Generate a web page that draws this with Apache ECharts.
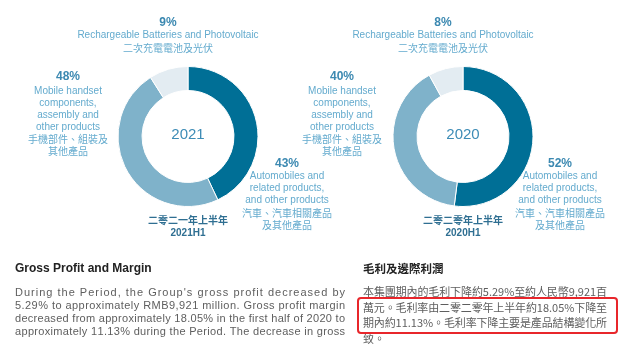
<!DOCTYPE html>
<html>
<head>
<meta charset="utf-8">
<script src="https://cdn.jsdelivr.net/npm/echarts@6/dist/echarts.min.js"></script>
<style>
  html, body { margin: 0; padding: 0; background: #fff; }
  #main { width: 640px; height: 351px; }
</style>
</head>
<body>
<div id="main"></div>
<script>
// data
var years = ['2021', '2020'];
var periodsZh = ['二零二一年上半年', '二零二零年上半年'];
var periodsEn = ['2021H1', '2020H1'];
var segmentNames = ['Automobiles', 'Mobile handset', 'Rechargeable Batteries'];
var share2021 = [43, 48, 9];
var share2020 = [52, 40, 8];
var autoLabel = ['Automobiles and', 'related products,', 'and other products', '汽車、汽車相關產品', '及其他產品'];
var mobileLabel = ['Mobile handset', 'components,', 'assembly and', 'other products', '手機部件、組裝及', '其他產品'];
var batteryLabel = ['Rechargeable Batteries and Photovoltaic', '二次充電電池及光伏'];

var headingEn = 'Gross Profit and Margin';
var paraEn = [
  "During the Period, the Group's gross profit decreased by",
  '5.29% to approximately RMB9,921 million. Gross profit margin',
  'decreased from approximately 18.05% in the first half of 2020 to',
  'approximately 11.13% during the Period. The decrease in gross'
];
var headingZh = '毛利及邊際利潤';
var paraZh = [
  '本集團期內的毛利下降約5.29%至約人民幣9,921百',
  '萬元。毛利率由二零二零年上半年約18.05%下降至',
  '期內約11.13%。毛利率下降主要是產品結構變化所',
  '致。'
];

var colors = ['#006f96', '#7fb2ca', '#e3ecf2'];
var labelColor = '#64abce';
var pctColor = '#3c89b1';
var EN = '"Liberation Sans", Arial, sans-serif';
var ZH = '"Noto Sans CJK TC", "Liberation Sans", sans-serif';

var chart = echarts.init(document.getElementById('main'));
var measure = document.createElement('canvas').getContext('2d');

function txt(s, x, y, size, color, weight, family, align) {
  return {
    type: 'text', x: x, y: y, silent: true,
    style: {
      text: s, fill: color, fontSize: size, fontWeight: weight || 'normal',
      fontFamily: family || EN, textAlign: align || 'center', align: align || 'center',
      textVerticalAlign: 'middle', verticalAlign: 'middle'
    }
  };
}

function isZh(s) { return /[\u3000-\u9fff\uff00-\uffef]/.test(s); }

// multi-line label, english lines and chinese lines in their own font
function block(pct, lines, x, y0, y1, step) {
  var out = [txt(pct + '%', x, y0, 12, pctColor, 'bold')];
  lines.forEach(function (l, i) {
    out.push(txt(l, x, y1 + i * step, 10, labelColor, 'normal', isZh(l) ? ZH : EN));
  });
  return out;
}

// justified paragraph line, pieces spread between x0 and x1
function justify(tokens, x0, x1, y, size, family, color) {
  measure.font = size + 'px ' + family;
  var w = tokens.map(function (t) { return measure.measureText(t).width; });
  var total = w.reduce(function (a, b) { return a + b; }, 0);
  var gap = tokens.length > 1 ? (x1 - x0 - total) / (tokens.length - 1) : 0;
  var out = [], x = x0;
  tokens.forEach(function (t, i) {
    if (t !== ' ') out.push(txt(t, x, y, size, color, 'normal', family, 'left'));
    x += w[i] + gap;
  });
  return out;
}

var graphics = [];
var sets = [share2021, share2020];
var cx = [188, 463];
var mobX = [68, 342];
var autoX = [287, 560];
var batX = [168, 443];

sets.forEach(function (s, k) {
  graphics.push(txt(years[k], cx[k], 135, 15, '#3d8cb6'));
  graphics = graphics.concat(block(s[2], batteryLabel, batX[k], 22.5, 35, 13));
  graphics = graphics.concat(block(s[1], mobileLabel, mobX[k], 77, 91.5, 12));
  graphics = graphics.concat(block(s[0], autoLabel, autoX[k], 164, 176.2, 12.2));
  graphics.push(txt(periodsZh[k], cx[k], 220, 10, '#2f6f92', 'bold', ZH));
  graphics.push(txt(periodsEn[k], cx[k], 233, 10, '#2f6f92', 'bold'));
});

graphics.push(txt(headingEn, 15, 269, 12, '#222', 'bold', EN, 'left'));
paraEn.forEach(function (l, i) {
  graphics = graphics.concat(justify(l.split(''), 15, 345, 293 + i * 13, 11, EN, '#5e5e5e'));
});

graphics.push(txt(headingZh, 363, 269, 11.5, '#222', 'bold', ZH, 'left'));
paraZh.forEach(function (l, i) {
  var tokens = l.match(/[A-Za-z0-9.,%]+|./g);
  var y = 292 + i * 15.6;
  if (i === paraZh.length - 1) {
    graphics.push(txt(l, 363, y, 11, '#5e5e5e', 'normal', ZH, 'left'));
  } else {
    graphics = graphics.concat(justify(tokens, 363, 607, y, 11, ZH, '#5e5e5e'));
  }
});

graphics.push({
  type: 'rect', silent: true,
  shape: { x: 358, y: 298, width: 259, height: 35, r: 3 },
  style: { fill: 'none', stroke: '#e8262b', lineWidth: 2 }
});

function pie(values, k) {
  return {
    type: 'pie',
    center: [cx[k], 136.5],
    radius: [46, 70],
    startAngle: 90,
    clockwise: true,
    silent: true,
    label: { show: false },
    labelLine: { show: false },
    itemStyle: { borderColor: '#fff', borderWidth: 1 },
    data: segmentNames.map(function (n, i) {
      return { name: n, value: values[i], itemStyle: { color: colors[i] } };
    })
  };
}

chart.setOption({
  backgroundColor: '#fff',
  animation: false,
  series: [pie(share2021, 0), pie(share2020, 1)],
  graphic: { elements: graphics }
});
</script>
</body>
</html>
